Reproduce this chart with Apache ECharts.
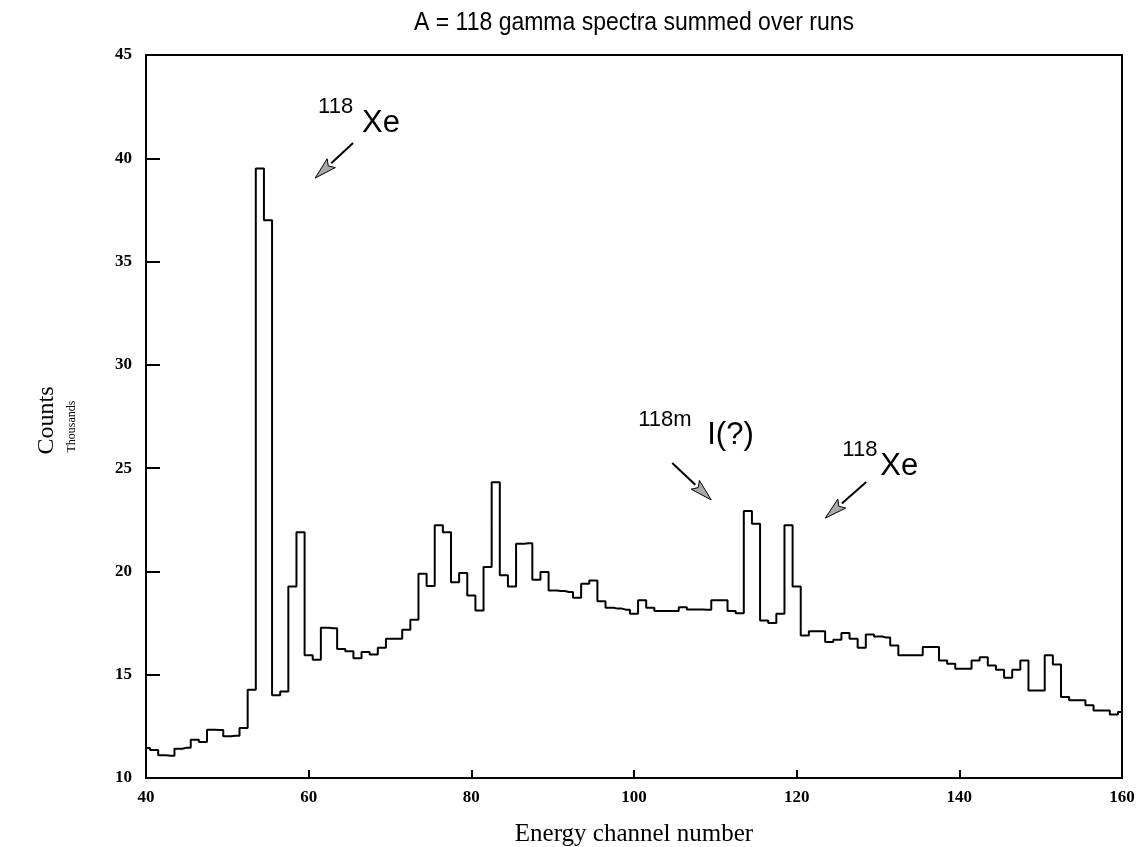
<!DOCTYPE html>
<html>
<head>
<meta charset="utf-8">
<script src="https://cdn.jsdelivr.net/npm/echarts@6/dist/echarts.min.js"></script>
<style>
  html, body { margin: 0; padding: 0; background: #fff; }
  #chart { width: 1139px; height: 847px; }
</style>
</head>
<body>
<div id="chart"></div>
<script>
// Energy channel numbers (x) and summed counts per channel, in thousands (y)
const channels = [
  40, 41, 42, 43, 44, 45, 46, 47, 48, 49,
  50, 51, 52, 53, 54, 55, 56, 57, 58, 59,
  60, 61, 62, 63, 64, 65, 66, 67, 68, 69,
  70, 71, 72, 73, 74, 75, 76, 77, 78, 79,
  80, 81, 82, 83, 84, 85, 86, 87, 88, 89,
  90, 91, 92, 93, 94, 95, 96, 97, 98, 99,
  100, 101, 102, 103, 104, 105, 106, 107, 108, 109,
  110, 111, 112, 113, 114, 115, 116, 117, 118, 119,
  120, 121, 122, 123, 124, 125, 126, 127, 128, 129,
  130, 131, 132, 133, 134, 135, 136, 137, 138, 139,
  140, 141, 142, 143, 144, 145, 146, 147, 148, 149,
  150, 151, 152, 153, 154, 155, 156, 157, 158, 159,
  160
];
const counts = [
  11.45, 11.35, 11.10, 11.08, 11.42, 11.47, 11.85, 11.74, 12.34, 12.32,
  12.02, 12.04, 12.42, 14.27, 39.50, 37.00, 14.00, 14.19, 19.27, 21.90,
  15.94, 15.73, 17.27, 17.25, 16.24, 16.13, 15.80, 16.10, 15.98, 16.30,
  16.74, 16.74, 17.18, 17.66, 19.89, 19.29, 22.23, 21.90, 19.48, 19.92,
  18.84, 18.11, 20.21, 24.32, 19.81, 19.27, 21.34, 21.36, 19.60, 19.97,
  19.08, 19.05, 19.00, 18.73, 19.40, 19.56, 18.56, 18.24, 18.20, 18.15,
  17.95, 18.60, 18.24, 18.08, 18.08, 18.08, 18.27, 18.16, 18.16, 18.15,
  18.60, 18.60, 18.08, 17.98, 22.92, 22.31, 17.63, 17.50, 17.95, 22.23,
  19.27, 16.90, 17.11, 17.11, 16.58, 16.69, 17.02, 16.74, 16.30, 16.95,
  16.85, 16.80, 16.42, 15.94, 15.94, 15.94, 16.34, 16.34, 15.69, 15.53,
  15.29, 15.29, 15.69, 15.85, 15.45, 15.24, 14.85, 15.24, 15.69, 14.24,
  14.24, 15.94, 15.50, 13.92, 13.76, 13.76, 13.52, 13.27, 13.27, 13.08,
  13.20
];

// Axis tick values
const xTicks = [40, 60, 80, 100, 120, 140, 160];
const yTicks = [10, 15, 20, 25, 30, 35, 40, 45];

// Isotope labels with arrows: [tail, tip] in data coordinates
const annotations = [
  { sup: '118',  main: 'Xe',   tail: [65.46, 40.74], tip: [60.79, 39.04],
    supOff: [-35, -28], mainOff: [9, -8] },
  { sup: '118m', main: 'I(?)', tail: [104.70, 25.25], tip: [109.50, 23.46],
    supOff: [-34, -35], mainOff: [35, -16] },
  { sup: '118',  main: 'Xe',   tail: [128.56, 24.33], tip: [123.52, 22.58],
    supOff: [-24, -24], mainOff: [14, -4] }
];

const titleText = 'A = 118 gamma spectra summed over runs';
const xName = 'Energy channel number';
const yName = 'Counts';
const yUnit = 'Thousands';

const serif = '"Liberation Serif", "DejaVu Serif", serif';
const sans = '"Liberation Sans", Arial, sans-serif';

const chart = echarts.init(document.getElementById('chart'), null, { renderer: 'canvas' });

const seriesData = channels.map((c, i) => [c, counts[i]]);

const axisCommon = {
  axisLine: { show: true, lineStyle: { color: '#000', width: 2 } },
  splitLine: { show: false },
  axisLabel: { color: '#000', fontFamily: serif, fontWeight: 'bold', fontSize: 17 }
};

chart.setOption({
  animation: false,
  backgroundColor: '#fff',
  grid: {
    left: 146, right: 17, top: 55, bottom: 69,
    containLabel: false,
    outerBoundsMode: 'none',
    show: true, borderColor: '#000', borderWidth: 2, backgroundColor: 'transparent'
  },
  xAxis: Object.assign({}, axisCommon, {
    type: 'value',
    min: xTicks[0], max: xTicks[xTicks.length - 1],
    interval: xTicks[1] - xTicks[0],
    axisTick: { show: true, inside: true, length: 8, lineStyle: { color: '#000', width: 2 } },
    axisLabel: Object.assign({}, axisCommon.axisLabel, { margin: 11 }),
    name: xName, nameLocation: 'middle', nameGap: 44,
    nameTextStyle: { color: '#000', fontFamily: serif, fontSize: 25 }
  }),
  yAxis: Object.assign({}, axisCommon, {
    type: 'value',
    min: yTicks[0], max: yTicks[yTicks.length - 1],
    interval: yTicks[1] - yTicks[0],
    axisTick: { show: true, inside: true, length: 14, lineStyle: { color: '#000', width: 2 } },
    axisLabel: Object.assign({}, axisCommon.axisLabel, { margin: 14 })
  }),
  series: [{
    type: 'line',
    step: 'middle',
    data: seriesData,
    showSymbol: false,
    lineStyle: { color: '#000', width: 2 },
    z: 3
  }]
});

// Title, axis name and isotope labels drawn as graphic elements
function buildGraphics() {
  const g = [];
  const gridRect = chart.getModel().getComponent('grid').coordinateSystem.getRect();
  const cx = gridRect.x + gridRect.width / 2;
  const cy = gridRect.y + gridRect.height / 2;

  g.push({
    type: 'text', x: cx, y: 23, scaleY: 1.15,
    style: { text: titleText, font: '23px ' + sans, fill: '#000', align: 'center', verticalAlign: 'middle' }
  });
  g.push({
    type: 'text', x: 47, y: cy + 4, rotation: Math.PI / 2,
    style: { text: yName, font: '24px ' + serif, fill: '#000', align: 'center', verticalAlign: 'middle' }
  });
  g.push({
    type: 'text', x: 72, y: cy + 10, rotation: Math.PI / 2,
    style: { text: yUnit, font: '12px ' + serif, fill: '#000', align: 'center', verticalAlign: 'middle' }
  });

  annotations.forEach(a => {
    const t0 = chart.convertToPixel({ gridIndex: 0 }, a.tail);
    const t1 = chart.convertToPixel({ gridIndex: 0 }, a.tip);
    const dx = t1[0] - t0[0], dy = t1[1] - t0[1];
    const len = Math.hypot(dx, dy);
    const ux = dx / len, uy = dy / len;
    const nx = -uy, ny = ux;
    const headLen = 22, headHalf = 6;
    const bx = t1[0] - ux * headLen, by = t1[1] - uy * headLen;

    g.push({
      type: 'line',
      shape: { x1: t0[0], y1: t0[1], x2: bx, y2: by },
      style: { stroke: '#000', lineWidth: 2 }
    });
    g.push({
      type: 'polygon',
      shape: { points: [
        [t1[0], t1[1]],
        [bx + nx * headHalf, by + ny * headHalf],
        [bx + ux * 4, by + uy * 4],
        [bx - nx * headHalf, by - ny * headHalf]
      ] },
      style: { fill: '#a8a8a8', stroke: '#000', lineWidth: 1 }
    });
    // baseline-relative placement: middle sits ~0.36em above the baseline
    g.push({
      type: 'text',
      x: t0[0] + a.supOff[0], y: t0[1] + a.supOff[1] - 0.36 * 22,
      style: { text: a.sup, font: '22px ' + sans, fill: '#000', align: 'left', verticalAlign: 'middle' }
    });
    g.push({
      type: 'text',
      x: t0[0] + a.mainOff[0], y: t0[1] + a.mainOff[1] - 0.36 * 31,
      style: { text: a.main, font: '31px ' + sans, fill: '#000', align: 'left', verticalAlign: 'middle' }
    });
  });
  chart.setOption({ graphic: g });
}

buildGraphics();
</script>
</body>
</html>
